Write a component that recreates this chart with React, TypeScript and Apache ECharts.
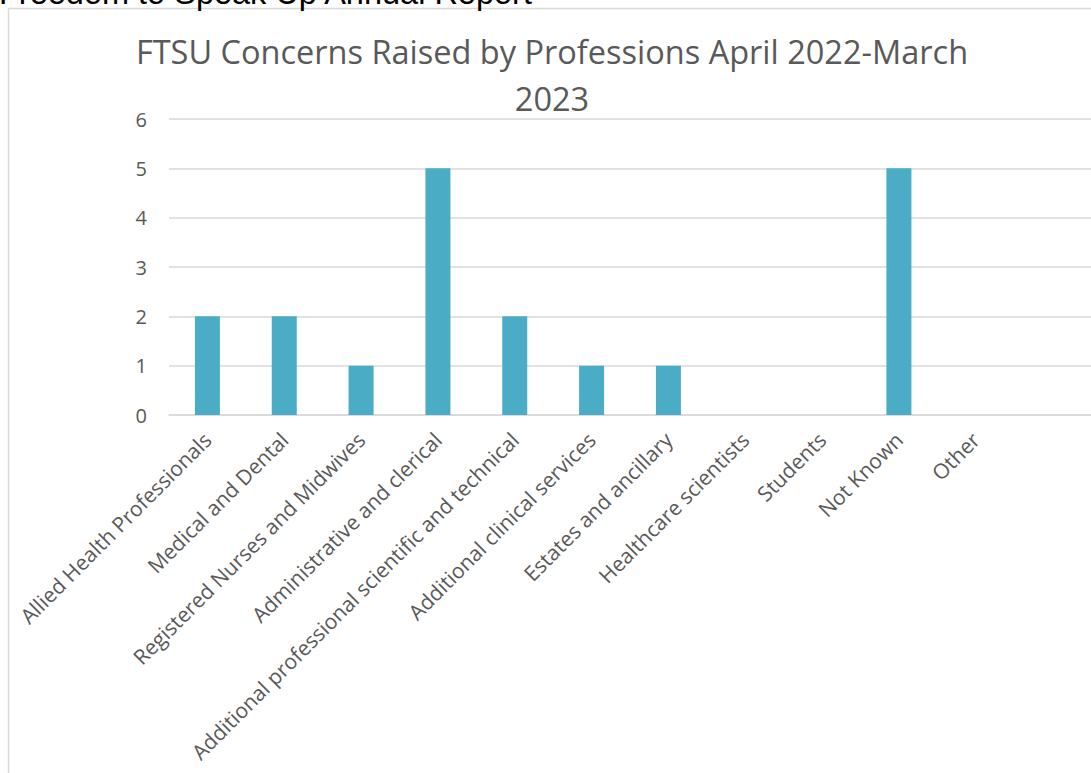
import React, { useEffect, useRef } from "react";
import * as echarts from "echarts";

const categories: string[] = [
  "Allied Health Professionals",
  "Medical and Dental",
  "Registered Nurses and Midwives",
  "Administrative and clerical",
  "Additional professional scientific and technical",
  "Additional clinical services",
  "Estates and ancillary",
  "Healthcare scientists",
  "Students",
  "Not Known",
  "Other",
  "",
];
const concerns: (number | null)[] = [2, 2, 1, 5, 2, 1, 1, null, null, 5, null, null];
const yTicks = { min: 0, max: 6, interval: 1 };
const chartTitle = "FTSU Concerns Raised by Professions April 2022-March\n2023";
const pageHeader = "Freedom to Speak Up Annual Report";

export default function App() {
  const ref = useRef<HTMLDivElement>(null);
  useEffect(() => {
    if (!ref.current) return;
    const chart = echarts.init(ref.current, null, { renderer: "svg" });
    const font = "'Open Sans', 'Noto Sans', sans-serif";
    chart.setOption({
      animation: false,
      backgroundColor: "#ffffff",
      title: {
        text: chartTitle,
        left: 547,
        textAlign: "center",
        top: 23,
        textStyle: {
          fontFamily: font,
          fontSize: 32.5,
          fontWeight: "normal",
          color: "#595959",
          lineHeight: 47,
        },
      },
      graphic: [
        {
          type: "rect",
          shape: { x: 8.5, y: 8.5, width: 1200, height: 900 },
          style: { fill: "none", stroke: "#d9d9d9", lineWidth: 1.5 },
          silent: true,
          z: -10,
        },
        {
          type: "text",
          left: -1,
          top: -24,
          style: {
            text: pageHeader,
            fontFamily: "'Liberation Sans', Arial, sans-serif",
            fontSize: 32.5,
            fill: "#000000",
          },
        },
      ],
      grid: { left: 169, right: -4, top: 119, bottom: 358, containLabel: false },
      xAxis: {
        type: "category",
        data: categories,
        axisLine: { show: true, lineStyle: { color: "#d9d9d9", width: 1.5 } },
        axisTick: { show: false },
        axisLabel: {
          interval: 0,
          rotate: 45,
          margin: 21,
          padding: [12, 0, 0, 0],
          fontFamily: font,
          fontSize: 21,
          color: "#595959",
        },
      },
      yAxis: {
        type: "value",
        min: yTicks.min,
        max: yTicks.max,
        interval: yTicks.interval,
        axisLine: { show: false },
        axisTick: { show: false },
        splitLine: { lineStyle: { color: "#d9d9d9", width: 1.5 } },
        axisLabel: {
          margin: 22,
          fontFamily: font,
          fontSize: 20,
          color: "#595959",
        },
      },
      series: [
        {
          type: "bar",
          data: concerns,
          barWidth: 25,
          itemStyle: { color: "#4bacc6" },
        },
      ],
    });
    return () => chart.dispose();
  }, []);
  return (
    <div
      ref={ref}
      style={{ position: "fixed", left: 0, top: 0, width: 1091, height: 773, overflow: "hidden" }}
    />
  );
}
